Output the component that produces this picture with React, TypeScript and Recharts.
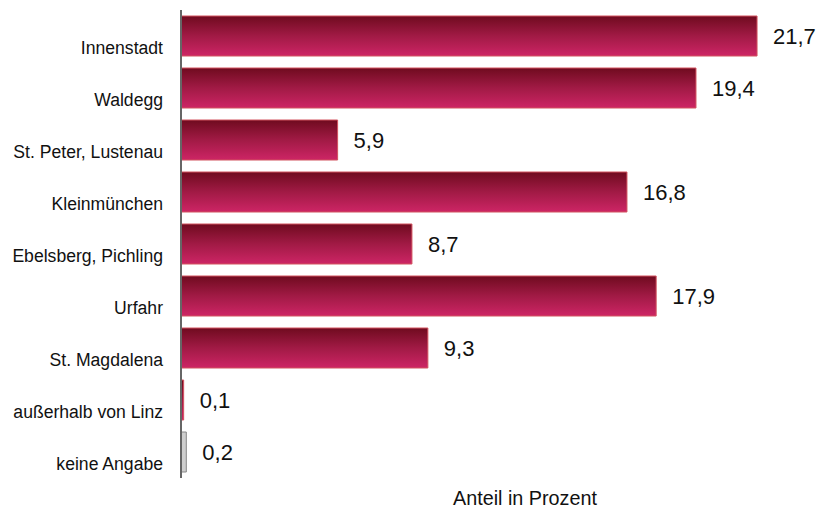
import React from "react";
import { BarChart, Bar, XAxis, YAxis, Cell, LabelList } from "recharts";

const categories = [
  "Innenstadt",
  "Waldegg",
  "St. Peter, Lustenau",
  "Kleinmünchen",
  "Ebelsberg, Pichling",
  "Urfahr",
  "St. Magdalena",
  "außerhalb von Linz",
  "keine Angabe",
];
const values = [21.7, 19.4, 5.9, 16.8, 8.7, 17.9, 9.3, 0.1, 0.2];
const grayIndex = 8;

const data = categories.map((name, i) => ({ name, value: values[i] }));

const fmt = (v: any) => String(v).replace(".", ",");

const CategoryTick = (props: any) => {
  const { x, y, payload } = props;
  return (
    <text
      x={x - 10}
      y={y + 13.5}
      textAnchor="end"
      dominantBaseline="middle"
      fontSize={17.6}
      fill="#111"
      fontFamily="Liberation Sans, Arial, sans-serif"
    >
      {payload.value}
    </text>
  );
};

export default function App() {
  return (
    <div style={{ position: "absolute", left: 0, top: 0, background: "#fff" }}>
      <BarChart
        width={816}
        height={510}
        data={data}
        layout="vertical"
        margin={{ top: 10, right: 51, bottom: 0, left: 0 }}
        barSize={40}
        style={{ fontFamily: "Liberation Sans, Arial, sans-serif" }}
      >
        <defs>
          <linearGradient id="barGrad" x1="0" y1="0" x2="0" y2="1">
            <stop offset="0%" stopColor="#6f0b1f" />
            <stop offset="50%" stopColor="#a11a45" />
            <stop offset="100%" stopColor="#cd2565" />
          </linearGradient>
        </defs>
        <XAxis
          type="number"
          domain={[0, 22]}
          height={32}
          tick={false}
          axisLine={false}
          tickLine={false}
          label={{
            value: "Anteil in Prozent",
            position: "insideBottom",
            offset: 5,
            dx: 52,
            fontSize: 19.8,
            fill: "#111",
          }}
        />
        <YAxis
          type="category"
          dataKey="name"
          width={181}
          tickLine={false}
          axisLine={{ stroke: "#666", strokeWidth: 2 }}
          tick={<CategoryTick />}
          interval={0}
        />
        <Bar dataKey="value" isAnimationActive={false}>
          {data.map((d, i) => (
            <Cell
              key={d.name}
              fill={i === grayIndex ? "#cfcfcf" : "url(#barGrad)"}
              stroke={i === grayIndex ? "#888" : "#d2525f"}
              strokeWidth={1}
            />
          ))}
          <LabelList
            dataKey="value"
            position="right"
            offset={16}
            formatter={fmt}
            fontSize={22}
            fill="#111"
          />
        </Bar>
      </BarChart>
    </div>
  );
}
